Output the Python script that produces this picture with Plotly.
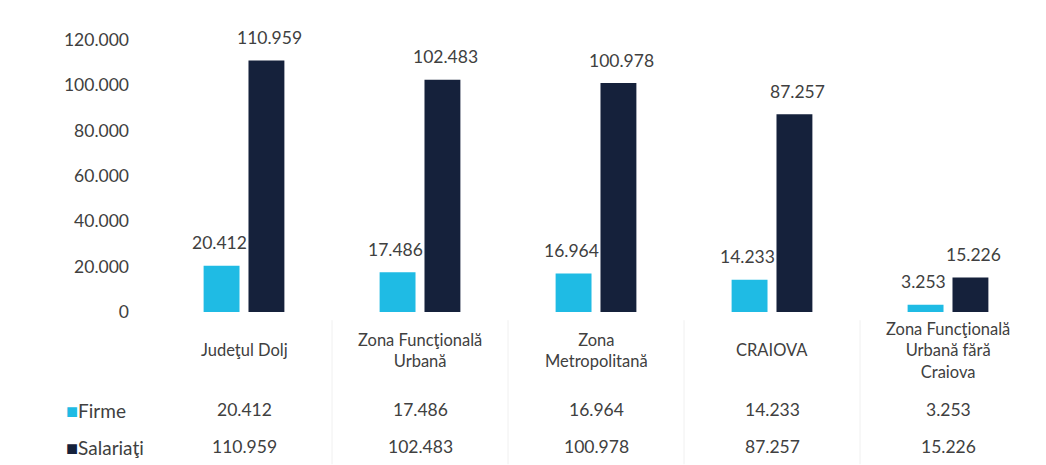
import plotly.graph_objects as go

categories = ["Judeţul Dolj", "Zona Funcţională<br>Urbană", "Zona<br>Metropolitană",
              "CRAIOVA", "Zona Funcţională<br>Urbană fără<br>Craiova"]
firme = [20412, 17486, 16964, 14233, 3253]
salariati = [110959, 102483, 100978, 87257, 15226]
series_names = ["Firme", "Salariaţi"]
y_ticks = [0, 20000, 40000, 60000, 80000, 100000, 120000]

c_firme = "#1fbbe4"
c_sal = "#15213b"
txt = "#404040"
font_family = "Lato, 'Noto Sans', sans-serif"
num_size = 17.5
lab_size = 16.5
row_size = 19


def fmt(v):
    return f"{v:,d}".replace(",", ".")


fig = go.Figure()
for name, vals, col in [(series_names[0], firme, c_firme), (series_names[1], salariati, c_sal)]:
    fig.add_trace(go.Bar(
        x=categories, y=vals, name=name, marker_color=col,
        marker_line_width=0, cliponaxis=False,
    ))

annotations = []
# value labels above bars
for vals, xs in [(firme, -25), (salariati, 25)]:
    for c, v in zip(categories, vals):
        annotations.append(dict(x=c, y=v, xref="x", yref="y", text=fmt(v), showarrow=False,
                                xanchor="center", yanchor="middle", xshift=xs, yshift=23,
                                font=dict(size=num_size, color=txt, family=font_family)))
# category labels
for c in categories:
    annotations.append(dict(x=c, y=-0.14, xref="x", yref="paper", text=c, showarrow=False,
                            xanchor="center", yanchor="middle",
                            font=dict(size=lab_size, color=txt, family=font_family)))
# data table
row_y = [-0.36, -0.496]
for name, vals, col, ry in [(series_names[0], firme, c_firme, row_y[0]),
                            (series_names[1], salariati, c_sal, row_y[1])]:
    annotations.append(dict(x=-0.105, y=ry, xref="paper", yref="paper",
                            text=f"<span style='color:{col};font-size:20px'>■</span>{name}",
                            showarrow=False, xanchor="left", yanchor="middle",
                            font=dict(size=row_size, color=txt, family=font_family)))
    for c, v in zip(categories, vals):
        annotations.append(dict(x=c, y=ry, xref="x", yref="paper", text=fmt(v), showarrow=False,
                                xanchor="center", yanchor="middle",
                                font=dict(size=num_size, color=txt, family=font_family)))

shapes = []
for b in [0.5, 1.5, 2.5, 3.5]:
    shapes.append(dict(type="line", xref="x", yref="paper", x0=b, x1=b, y0=-0.03, y1=-0.56,
                       line=dict(color="#f0f0f0", width=1)))

# page body has an 8px default margin; figure size/margins compensate for it
fig.update_layout(
    width=1038, height=457,
    margin=dict(l=148, r=10, t=32, b=153),
    paper_bgcolor="white", plot_bgcolor="white",
    separators=",.",
    showlegend=False,
    barmode="group", bargap=0.49, bargroupgap=0.2,
    font=dict(family=font_family, color=txt, size=15),
    xaxis=dict(showticklabels=False, showline=False, showgrid=False, zeroline=False),
    yaxis=dict(range=[0, 120000], tickvals=y_ticks, tickformat=",d", showgrid=False,
               zeroline=False, showline=False, ticklabelstandoff=26, automargin=False,
               tickfont=dict(size=num_size, color=txt, family=font_family)),
    annotations=annotations,
    shapes=shapes,
)

fig.write_html("out.html")
